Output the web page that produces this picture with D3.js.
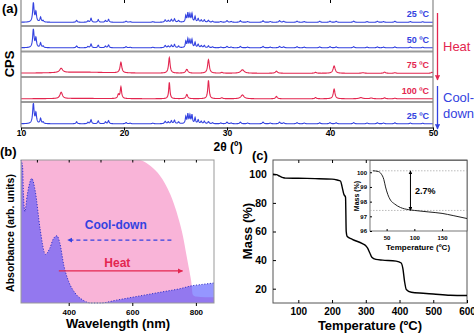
<!DOCTYPE html>
<html>
<head>
<meta charset="utf-8">
<script src="https://cdn.jsdelivr.net/npm/d3@7"></script>
<style>
  body { margin: 0; background: #fff; }
  svg { font-family: "Liberation Sans", Arial, sans-serif; }
  .tick text { font-weight: bold; }
</style>
</head>
<body>
<svg width="474" height="333"></svg>
<script>
// ---- (a) XRD peaks: [2theta, intensity, half width] ----
const bluePeaks = [
  [11.2, 1.0, 0.08], [11.45, 0.5, 0.07], [11.9, 0.25, 0.07], [12.15, 0.08, 0.07],
  [15.4, 0.1, 0.07], [16.5, 0.07, 0.07], [16.8, 0.2, 0.07], [17.5, 0.14, 0.07],
  [18.2, 0.09, 0.07], [18.5, 0.15, 0.07], [20.2, 0.06, 0.08], [20.6, 0.03, 0.08],
  [22.8, 0.03, 0.08], [24.0, 0.12, 0.08], [24.3, 0.09, 0.07], [24.6, 0.14, 0.07],
  [24.9, 0.17, 0.07], [25.3, 0.09, 0.07], [26.0, 0.33, 0.06], [26.2, 0.45, 0.06],
  [26.4, 0.38, 0.06], [26.6, 0.42, 0.06], [26.9, 0.28, 0.06], [27.2, 0.18, 0.07],
  [27.5, 0.11, 0.07], [27.8, 0.12, 0.07], [28.2, 0.1, 0.07], [28.6, 0.05, 0.07],
  [29.4, 0.04, 0.08], [30.0, 0.08, 0.08], [30.4, 0.04, 0.08], [31.3, 0.08, 0.08],
  [32.0, 0.04, 0.08], [33.5, 0.08, 0.08], [34.2, 0.04, 0.08], [35.1, 0.08, 0.08],
  [35.5, 0.05, 0.08], [36.8, 0.06, 0.08], [37.5, 0.04, 0.08], [39.0, 0.05, 0.08],
  [40.0, 0.06, 0.08], [40.6, 0.05, 0.08], [42.3, 0.06, 0.08], [43.6, 0.04, 0.08],
  [44.6, 0.05, 0.08], [45.2, 0.04, 0.08], [46.3, 0.05, 0.08], [47.8, 0.04, 0.08],
  [49.0, 0.03, 0.08]
];
const red75Peaks = [
  [16.0, 0.06, 3.0], [13.9, 0.22, 0.18], [19.7, 0.55, 0.1], [24.4, 0.8, 0.09],
  [26.1, 0.2, 0.12], [28.2, 0.7, 0.1], [29.5, 0.04, 0.1], [31.5, 0.18, 0.2],
  [34.8, 0.11, 0.12], [38.6, 0.05, 0.1], [40.4, 0.38, 0.12], [43.2, 0.03, 0.15],
  [45.3, 0.06, 0.1], [46.3, 0.03, 0.1], [49.9, 0.05, 0.1]
];
const red100Peaks = [
  [16.0, 0.02, 3.0], [13.9, 0.33, 0.14], [19.45, 0.2, 0.08], [19.7, 0.6, 0.08],
  [24.4, 0.85, 0.07], [26.1, 0.22, 0.1], [28.2, 0.95, 0.08], [29.5, 0.05, 0.1],
  [31.5, 0.2, 0.18], [34.8, 0.12, 0.1], [38.6, 0.06, 0.1], [40.4, 0.5, 0.1],
  [43.0, 0.06, 0.2], [44.0, 0.04, 0.15], [45.3, 0.05, 0.1], [46.3, 0.03, 0.1]
];
const rowLabels = ["25 \u00baC", "50 \u00baC", "75 \u00baC", "100 \u00baC", "25 \u00baC"];
const rowPeaks = [bluePeaks, bluePeaks, red75Peaks, red100Peaks, bluePeaks];
const rowGain = [1, 0.95, 1, 1, 1.05];
const rowHot = [false, false, true, true, false];
const xrdTicks = [10, 20, 30, 40, 50];

// ---- (b) UV-vis ----
const heatNm  = [250, 300, 400, 500, 600, 623, 650, 680, 711, 730, 748, 760, 770, 780, 786, 790, 800, 830, 857];
const heatAbs = [1, 1, 1, 1, 1, 1, 0.97, 0.91, 0.8, 0.7, 0.57, 0.46, 0.34, 0.22, 0.14, 0.06, 0.045, 0.04, 0.04];
const coolNm  = [250, 255, 258, 262, 270, 284, 295, 310, 327, 340, 352, 363, 372, 385, 400, 420, 445, 470, 500, 550, 600, 650, 700, 750, 786, 820, 857];
const coolAbs = [1.0, 0.95, 0.75, 0.64, 0.76, 0.87, 0.78, 0.52, 0.34, 0.38, 0.45, 0.47, 0.42, 0.26, 0.15, 0.07, 0.02, 0.0, 0.0, 0.02, 0.04, 0.06, 0.08, 0.1, 0.12, 0.13, 0.14];
const nmTicks = [400, 600, 800];

// ---- (c) TGA ----
const tgaTemp = [25, 35, 45, 55, 62, 100, 150, 200, 215, 225, 230, 235, 240, 242, 245, 260, 290, 300, 305, 312, 318, 330, 350, 390, 405, 410, 415, 420, 435, 470, 500, 550, 600];
const tgaMass = [100, 99.8, 98.7, 97.7, 97.3, 97.2, 97.0, 96.6, 96.0, 95.3, 91, 86, 84, 60, 56.5, 54.5, 51.5, 50, 48.5, 45, 42, 40.5, 40, 39.3, 38, 34, 25, 19.5, 17.5, 16.8, 16.3, 15.4, 15.2];
const insetTemp = [25, 35, 40, 45, 48, 52, 57, 64, 75, 90, 100, 125, 150, 170, 195];
const insetMass = [100.1, 100.05, 99.9, 99.5, 99.0, 98.5, 98.1, 97.85, 97.6, 97.45, 97.4, 97.3, 97.2, 97.05, 96.85];
const tgaTicksX = [100, 200, 300, 400, 500, 600];
const tgaTicksY = [20, 40, 60, 80, 100];

const blue = "#3342e0", red = "#e3264f";
const svg = d3.select("svg");

// arrow markers
const defs = svg.append("defs");
function marker(id, col, size) {
  defs.append("marker").attr("id", id)
    .attr("viewBox", "0 0 10 10").attr("refX", 9).attr("refY", 5)
    .attr("markerWidth", size).attr("markerHeight", size)
    .attr("orient", "auto-start-reverse")
    .append("path").attr("d", "M0,0 L10,5 L0,10 z").attr("fill", col);
}
marker("hRed", red, 4);
marker("hBlue", blue, 4);
marker("hBlack", "#000", 4);

/* ================= (a) ================= */
const xA = d3.scaleLinear([10, 50], [21, 433]);
const rowTop = [1, 26.5, 52, 77.5, 102.5], rowH = 25.3;
const grid = d3.range(10, 50.0001, 0.02);
const gA = svg.append("g");

rowPeaks.forEach((peaks, i) => {
  const y = d3.scaleLinear([0, 1], [rowTop[i] + rowH - 4, rowTop[i] + 2]);
  const pts = grid.map(t => [t, rowGain[i] * d3.sum(peaks, p => p[1] / (1 + ((t - p[0]) / p[2]) ** 2))]);
  const col = rowHot[i] ? red : blue;
  gA.append("path").datum(pts)
    .attr("fill", "none").attr("stroke", col).attr("stroke-width", 1.1)
    .attr("d", d3.line().x(d => xA(d[0])).y(d => y(Math.min(d[1], 1.05))));
  gA.append("text").attr("x", 429).attr("y", rowTop[i] + 16)
    .attr("text-anchor", "end").attr("font-size", 9).attr("font-weight", "bold")
    .attr("fill", col).text(rowLabels[i]);
  if (i > 0) {
    gA.append("line").attr("x1", 21).attr("x2", 433)
      .attr("y1", rowTop[i] - 0.5).attr("y2", rowTop[i] - 0.5)
      .attr("stroke", "#9a9a9a").attr("stroke-width", 1.8);
  }
});
gA.append("line").attr("x1", 21).attr("x2", 21).attr("y1", 0).attr("y2", 127.5).attr("stroke", "#888").attr("stroke-width", 1.2);
gA.append("line").attr("x1", 433).attr("x2", 433).attr("y1", 0).attr("y2", 127.5).attr("stroke", "#888").attr("stroke-width", 1.2);
gA.append("g").attr("transform", "translate(0,127.5)")
  .call(d3.axisBottom(xA).tickValues(xrdTicks).tickSize(3).tickSizeOuter(0))
  .call(g => g.selectAll("text").attr("font-size", 8.5).attr("y", 2).attr("dy", "0.75em"));
gA.append("g").attr("transform", "translate(0,0)")
  .call(d3.axisBottom(xA).tickValues([20, 30, 40]).tickSize(3).tickFormat(""))
  .call(g => g.select(".domain").remove());

gA.append("text").attr("x", 2).attr("y", 13).attr("font-size", 13).attr("font-weight", "bold").text("(a)");
gA.append("text").attr("transform", "translate(14,64) rotate(-90)").attr("text-anchor", "middle")
  .attr("font-size", 13).attr("font-weight", "bold").text("CPS");
gA.append("text").attr("x", 228).attr("y", 151).attr("text-anchor", "middle")
  .attr("font-size", 12).attr("font-weight", "bold").text("2\u03b8 (\u00ba)");

// heat / cool-down arrows
gA.append("line").attr("x1", 437.5).attr("x2", 437.5).attr("y1", 13).attr("y2", 80)
  .attr("stroke", red).attr("stroke-width", 1.3).attr("marker-end", "url(#hRed)");
gA.append("text").attr("x", 443).attr("y", 51).attr("font-size", 13).attr("fill", red).text("Heat");
gA.append("line").attr("x1", 437.5).attr("x2", 437.5).attr("y1", 86).attr("y2", 129)
  .attr("stroke", blue).attr("stroke-width", 1.3).attr("marker-end", "url(#hBlue)");
gA.append("text").attr("x", 443).attr("y", 102).attr("font-size", 13).attr("fill", blue).text("Cool-");
gA.append("text").attr("x", 443).attr("y", 118).attr("font-size", 13).attr("fill", blue).text("down");

/* ================= (b) ================= */
const xB = d3.scaleLinear([250, 857], [21, 214]);
const yB = d3.scaleLinear([0, 1], [303, 160]);
const gB = svg.append("g");
const heat = heatNm.map((d, i) => [d, heatAbs[i]]);
const cool = coolNm.map((d, i) => [d, coolAbs[i]]);
const areaB = d3.area().x(d => xB(d[0])).y0(yB(0)).y1(d => yB(d[1])).curve(d3.curveMonotoneX);

gB.append("path").datum(heat).attr("fill", "#f9b4d8").attr("d", areaB);
gB.append("path").datum(cool).attr("fill", "#4f50ff").attr("fill-opacity", 0.6).attr("d", areaB);
gB.append("path").datum(cool).attr("fill", "none").attr("stroke", "#3333c8")
  .attr("stroke-width", 1).attr("stroke-dasharray", "1.2,1.6")
  .attr("d", d3.line().x(d => xB(d[0])).y(d => yB(d[1])).curve(d3.curveMonotoneX));
gB.append("rect").attr("x", 21).attr("y", 160).attr("width", 193).attr("height", 143)
  .attr("fill", "none").attr("stroke", "#999").attr("stroke-width", 1);
gB.append("g").attr("transform", "translate(0,303)")
  .call(d3.axisBottom(xB).tickValues(nmTicks).tickSize(3).tickSizeOuter(0))
  .call(g => g.select(".domain").remove())
  .call(g => g.selectAll("text").attr("font-size", 8).attr("dy", "0.8em"));
gB.append("g").attr("transform", "translate(0,160)")
  .call(d3.axisBottom(xB).tickValues([300, 400, 500, 600, 700, 800]).tickSize(2.5).tickFormat(""))
  .call(g => g.select(".domain").remove());

gB.append("line").attr("x1", xB(723)).attr("x2", xB(397)).attr("y1", yB(0.44)).attr("y2", yB(0.44))
  .attr("stroke", blue).attr("stroke-width", 1.3).attr("stroke-dasharray", "4,3").attr("marker-end", "url(#hBlue)");
gB.append("text").attr("x", xB(548)).attr("y", yB(0.52)).attr("text-anchor", "middle")
  .attr("font-size", 12).attr("font-weight", "bold").attr("fill", blue).text("Cool-down");
gB.append("line").attr("x1", xB(369)).attr("x2", xB(758)).attr("y1", yB(0.224)).attr("y2", yB(0.224))
  .attr("stroke", red).attr("stroke-width", 1.3).attr("marker-end", "url(#hRed)");
gB.append("text").attr("x", xB(553)).attr("y", yB(0.255)).attr("text-anchor", "middle")
  .attr("font-size", 12).attr("font-weight", "bold").attr("fill", red).text("Heat");

gB.append("text").attr("x", 0).attr("y", 156).attr("font-size", 13).attr("font-weight", "bold").text("(b)");
gB.append("text").attr("transform", "translate(14,233) rotate(-90)").attr("text-anchor", "middle")
  .attr("font-size", 10.5).attr("font-weight", "bold").text("Absorbance (arb. units)");
gB.append("text").attr("x", 118).attr("y", 328).attr("text-anchor", "middle")
  .attr("font-size", 13).attr("font-weight", "bold").text("Wavelength (nm)");

/* ================= (c) ================= */
const xC = d3.scaleLinear([25, 600], [273, 467]);
const yC = d3.scaleLinear([10, 110], [303, 160]);
const gC = svg.append("g");
gC.append("rect").attr("x", 273).attr("y", 160).attr("width", 194).attr("height", 143)
  .attr("fill", "none").attr("stroke", "#555").attr("stroke-width", 1);
gC.append("path").datum(tgaTemp.map((d, i) => [d, tgaMass[i]]))
  .attr("fill", "none").attr("stroke", "#000").attr("stroke-width", 1.4)
  .attr("d", d3.line().x(d => xC(d[0])).y(d => yC(d[1])).curve(d3.curveMonotoneX));
gC.append("g").attr("transform", "translate(0,303)")
  .call(d3.axisBottom(xC).tickValues(tgaTicksX).tickSize(-3).tickSizeOuter(0))
  .call(g => g.select(".domain").remove())
  .call(g => g.selectAll("text").attr("font-size", 10).attr("font-weight", "normal").attr("y", 4).attr("dy", "0.75em"));
gC.append("g").attr("transform", "translate(273,0)")
  .call(d3.axisLeft(yC).tickValues(tgaTicksY).tickSize(-3).tickSizeOuter(0))
  .call(g => g.select(".domain").remove())
  .call(g => g.selectAll("text").attr("font-size", 10.5).attr("font-weight", "normal").attr("dx", "-0.3em"));
gC.append("g").attr("transform", "translate(0,160)")
  .call(d3.axisBottom(xC).tickValues([100, 200, 300]).tickSize(3).tickFormat(""))
  .call(g => g.select(".domain").remove());

// inset
const xI = d3.scaleLinear([20, 195], [370, 467]);
const yI = d3.scaleLinear([96, 100.8], [231, 160.5]);
gC.append("rect").attr("x", 370).attr("y", 160.5).attr("width", 97).attr("height", 70.5)
  .attr("fill", "#fff").attr("stroke", "#555").attr("stroke-width", 0.8);
[100.1, 97.4].forEach(v => {
  gC.append("line").attr("x1", 370).attr("x2", 467).attr("y1", yI(v)).attr("y2", yI(v))
    .attr("stroke", "#aaa").attr("stroke-width", 0.8).attr("stroke-dasharray", "1.5,1.5");
});
gC.append("path").datum(insetTemp.map((d, i) => [d, insetMass[i]]))
  .attr("fill", "none").attr("stroke", "#222").attr("stroke-width", 1)
  .attr("d", d3.line().x(d => xI(d[0])).y(d => yI(d[1])).curve(d3.curveMonotoneX));
gC.append("line").attr("x1", xI(93)).attr("x2", xI(93)).attr("y1", yI(100.1)).attr("y2", yI(97.4))
  .attr("stroke", "#000").attr("stroke-width", 1)
  .attr("marker-start", "url(#hBlack)").attr("marker-end", "url(#hBlack)");
gC.append("text").attr("x", 415).attr("y", 194).attr("font-size", 9).attr("font-weight", "bold").text("2.7%");
gC.append("g").attr("transform", "translate(0,231)")
  .call(d3.axisBottom(xI).tickValues([50, 100, 150]).tickSize(-2).tickSizeOuter(0))
  .call(g => g.select(".domain").remove())
  .call(g => g.selectAll("text").attr("font-size", 6).attr("dy", "1em"));
gC.append("g").attr("transform", "translate(370,0)")
  .call(d3.axisLeft(yI).tickValues([96, 97, 98, 99, 100]).tickFormat(d3.format("d")).tickSize(-2).tickSizeOuter(0))
  .call(g => g.select(".domain").remove())
  .call(g => g.selectAll("text").attr("font-size", 6));
gC.append("text").attr("x", 418).attr("y", 250).attr("text-anchor", "middle")
  .attr("font-size", 8).attr("font-weight", "bold").text("Temperature (\u00baC)");
gC.append("text").attr("transform", "translate(359,196) rotate(-90)").attr("text-anchor", "middle")
  .attr("font-size", 7).attr("font-weight", "bold").text("Mass (%)");

gC.append("text").attr("x", 252).attr("y", 160).attr("font-size", 13).attr("font-weight", "bold").text("(c)");
gC.append("text").attr("transform", "translate(252,231) rotate(-90)").attr("text-anchor", "middle")
  .attr("font-size", 13).attr("font-weight", "bold").text("Mass (%)");
gC.append("text").attr("x", 370).attr("y", 330).attr("text-anchor", "middle")
  .attr("font-size", 13).attr("font-weight", "bold").text("Temperature (\u00baC)");
</script>
</body>
</html>
